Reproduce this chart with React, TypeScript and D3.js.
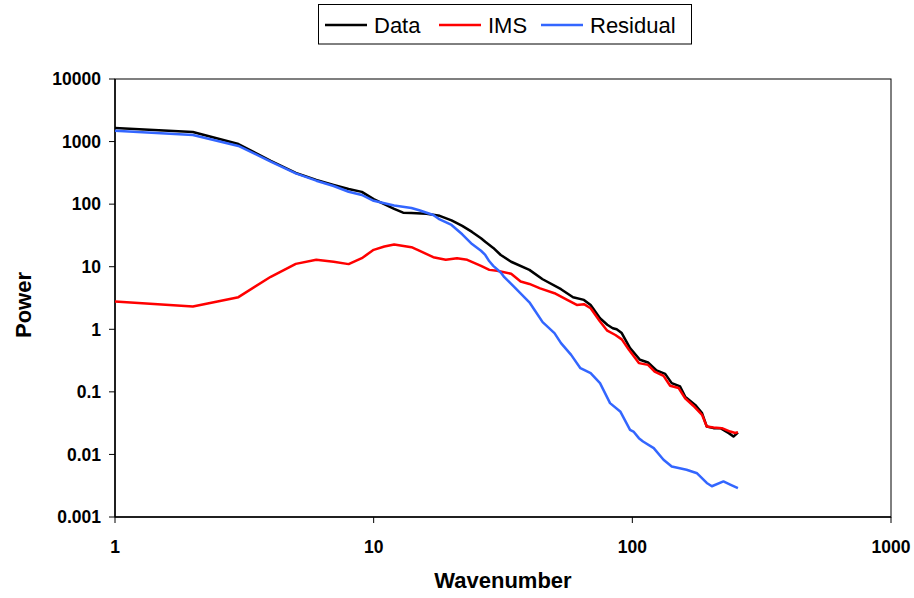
import React from "react";
import * as d3 from "d3";

const dataK = [1,2,3,4,5,6,7,8,9,10,12,13,14,16,18,20,22,24,26,27,29,31,34,40,45,53,59,65,69,75,80,84,87,91,98,107,115,124,134,142,153,160,175,186,194,206,219,236,246,256];
const dataP = [1650,1420,915,490,315,244,203,175,157,120,84,73,72,70,65,55,45,36,28.5,25,20,15.4,12,8.9,6.3,4.37,3.26,2.95,2.45,1.5,1.18,1.04,1.0,0.87,0.5,0.326,0.295,0.22,0.194,0.138,0.122,0.084,0.062,0.0457,0.0279,0.0263,0.0263,0.0219,0.0193,0.0224];

const imsK = [1,2,3,4,5,6,7,8,9,10,11,12,14,15,17,19,21,23,26,28,30,34,37,40,44,50,56,61,65,69,75,80,86,91,97,106,115,122,132,140,151,160,172,186,194,206,222,239,250,256];
const imsP = [2.77,2.31,3.26,6.9,11.1,12.9,12.0,11.0,13.7,18.6,21,22.7,20.5,18.1,14.2,12.9,13.7,12.9,10.3,8.9,8.6,7.7,5.8,5.3,4.5,3.77,2.95,2.45,2.52,2.17,1.33,0.95,0.81,0.69,0.47,0.288,0.27,0.211,0.18,0.125,0.115,0.079,0.06,0.043,0.0279,0.0269,0.0263,0.0232,0.022,0.0227];

const resK = [1,2,3,4,5,6,7,8,9,10,12,14,15,17,18,20,22,24,26,27,28,29,31,32,35,40,42,45,50,53,58,63,69,75,82,90,98,101,106,110,121,132,142,162,178,194,203,225,239,256];
const resP = [1490,1270,850,480,310,237,195,158,140,113,95,87,80,67,57,46.5,33,23,18,15.4,12.2,10.3,8.1,6.8,4.7,2.7,2.0,1.3,0.87,0.6,0.39,0.239,0.199,0.138,0.066,0.048,0.0247,0.0232,0.0182,0.0161,0.0126,0.0082,0.0064,0.0057,0.005,0.0035,0.0031,0.0037,0.0033,0.0029];

const seriesNames = ["Data", "IMS", "Residual"];
const seriesColors = ["#000000", "#ff0000", "#3366ff"];
const xTicks = [1, 10, 100, 1000];
const yTicks = [0.001, 0.01, 0.1, 1, 10, 100, 1000, 10000];

const W = 914, H = 598;
const L = 115, R = 891, T = 79, B = 517;

export default function App() {
  const x = d3.scaleLog().domain([1, 1000]).range([L, R]);
  const y = d3.scaleLog().domain([0.001, 10000]).range([B, T]);
  const line = d3.line<[number, number]>().x(d => x(d[0])).y(d => y(d[1]));
  const series = [
    dataK.map((k, i) => [k, dataP[i]] as [number, number]),
    imsK.map((k, i) => [k, imsP[i]] as [number, number]),
    resK.map((k, i) => [k, resP[i]] as [number, number]),
  ];
  const font = "Arial, 'Liberation Sans', sans-serif";
  const legendX = [325, 439, 541];
  return (
    <svg width={W} height={H} style={{ position: "absolute", left: 0, top: 0, background: "#fff" }} fontFamily={font}>
      <rect x={0} y={0} width={W} height={H} fill="#fff" />
      <rect x={L} y={T} width={R - L} height={B - T} fill="none" stroke="#000" strokeWidth={1} />
      <line x1={L} x2={L} y1={T} y2={B} stroke="#000" strokeWidth={1.5} />
      <line x1={L} x2={R} y1={B} y2={B} stroke="#000" strokeWidth={1.5} />
      {yTicks.map(t => (
        <g key={"y" + t}>
          <line x1={L - 6} x2={L} y1={y(t)} y2={y(t)} stroke="#000" strokeWidth={1} />
          <text x={101} y={y(t)} dy="0.36em" textAnchor="end" fontSize={17.5} fontWeight="bold">{String(t)}</text>
        </g>
      ))}
      {xTicks.map(t => (
        <g key={"x" + t}>
          <line x1={x(t)} x2={x(t)} y1={B} y2={B + 6} stroke="#000" strokeWidth={1} />
          <text x={x(t)} y={553} textAnchor="middle" fontSize={17.5} fontWeight="bold">{String(t)}</text>
        </g>
      ))}
      <text x={503} y={588} textAnchor="middle" fontSize={22} fontWeight="bold">Wavenumber</text>
      <text transform={`translate(31,305) rotate(-90)`} textAnchor="middle" fontSize={22} fontWeight="bold">Power</text>
      <g>
        {series.map((s, i) => (
          <path key={i} d={line(s) || ""} fill="none" stroke={seriesColors[i]} strokeWidth={2.5} strokeLinejoin="round" />
        ))}
      </g>
      <rect x={318.5} y={4.5} width={373} height={39.5} fill="#fff" stroke="#000" strokeWidth={1} />
      {seriesNames.map((n, i) => (
        <g key={n}>
          <line x1={legendX[i]} x2={legendX[i] + 42} y1={25} y2={25} stroke={seriesColors[i]} strokeWidth={2.5} />
          <text x={legendX[i] + 49} y={33} fontSize={22}>{n}</text>
        </g>
      ))}
    </svg>
  );
}
